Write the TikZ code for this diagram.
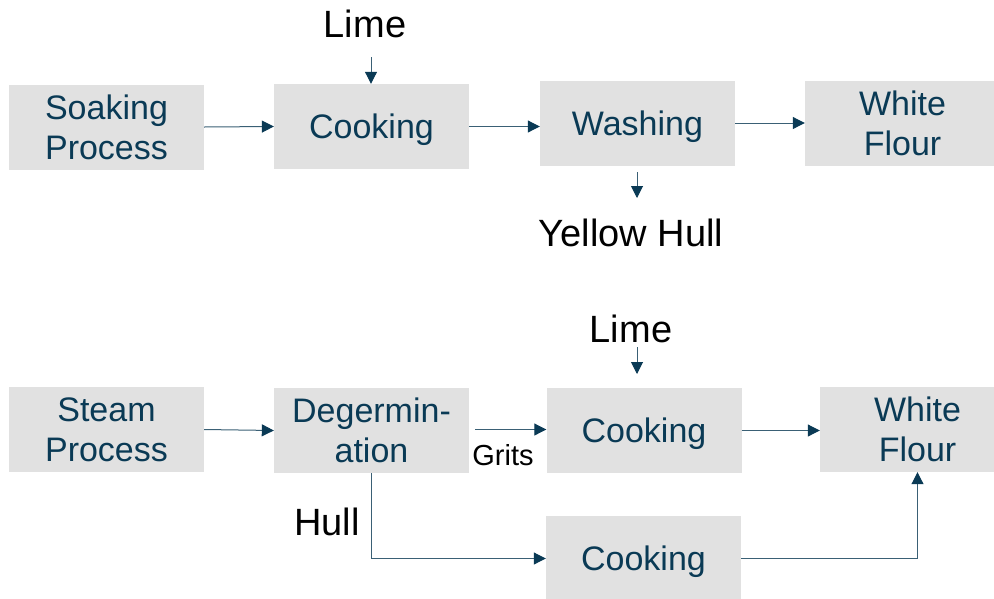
\documentclass[tikz,border=0pt]{standalone}
\usepackage{fontspec}
\setmainfont{Liberation Sans}
\usetikzlibrary{arrows.meta}
\definecolor{boxfill}{HTML}{E1E1E1}
\definecolor{ink}{HTML}{0A3A55}
\definecolor{wire}{HTML}{3A6075}

\begin{document}
\begin{tikzpicture}[x=1pt,y=-1pt,
  stage/.style={fill=boxfill, minimum width=195pt, minimum height=85pt,
    inner sep=0pt, align=center, text=ink, font=\fontsize{34}{40}\selectfont},
  oneline/.style={text height=24.5pt, text depth=0pt},
  tag/.style={text=black, font=\fontsize{38}{44}\selectfont, inner sep=0pt},
  smalltag/.style={text=black, font=\fontsize{29}{34}\selectfont, inner sep=0pt},
  flow/.style={draw=wire, line width=1pt,
    -{Triangle[length=12pt,width=12pt,color=ink]}}]

\useasboundingbox (0,0) rectangle (994,598);
\clip (0,0) rectangle (994,598);

% ---- soaking route ----
\node[stage] (soak)  at (106.5,127)   {Soaking\\Process};
\node[stage, oneline] (cookA) at (371.5,126.5) {Cooking};
\node[stage, oneline] (wash)  at (637.5,123)   {Washing};
\node[stage] (flourA) at (902.5,123)  {White\\Flour};

\node[tag] (limeA) at (365,24) {Lime};
\coordinate (limeAend) at (371,57);
\node[tag] (yhull) at (631,233) {Yellow Hull};
\coordinate (yhullstart) at (637,172);
\coordinate (yhullend) at (637,198);

\draw[flow] (soak.east) -- (cookA.west);
\draw[flow] (cookA.east) -- (cookA.east -| wash.west);
\draw[flow] (wash.east) -- (flourA.west);
\draw[flow] (limeAend) -- (limeAend |- cookA.north);
\draw[flow] (yhullstart) -- (yhullend);

% ---- steam route ----
\node[stage] (steam)  at (106.5,429.5) {Steam\\Process};
\node[stage] (degerm) at (371.5,430.5) {Degermin-\\ation};
\node[stage, oneline] (cookB)  at (644,430.5)   {Cooking};
\node[stage] (flourB) at (917.5,429.5) {White\\Flour};
\node[stage, oneline] (cookC)  at (643.5,558.5) {Cooking};

\node[tag] (limeB) at (631,329) {Lime};
\coordinate (limeBstart) at (637,347);
\coordinate (limeBend) at (637,374);
\node[smalltag] (grits) at (503,455.5) {Grits};
\node[tag] (hull) at (327,522) {Hull};
\coordinate (gritsstart) at (475,429.5);

\draw[flow] (steam.east) -- (degerm.west);
\draw[flow] (gritsstart) -- (gritsstart -| cookB.west);
\draw[flow] (cookB.east) -- (cookB.east -| flourB.west);
\draw[flow] (limeBstart) -- (limeBend);
\draw[flow] (degerm.south) |- (cookC.west);
\draw[flow] (cookC.east) -| (flourB.south);

\end{tikzpicture}
\end{document}
